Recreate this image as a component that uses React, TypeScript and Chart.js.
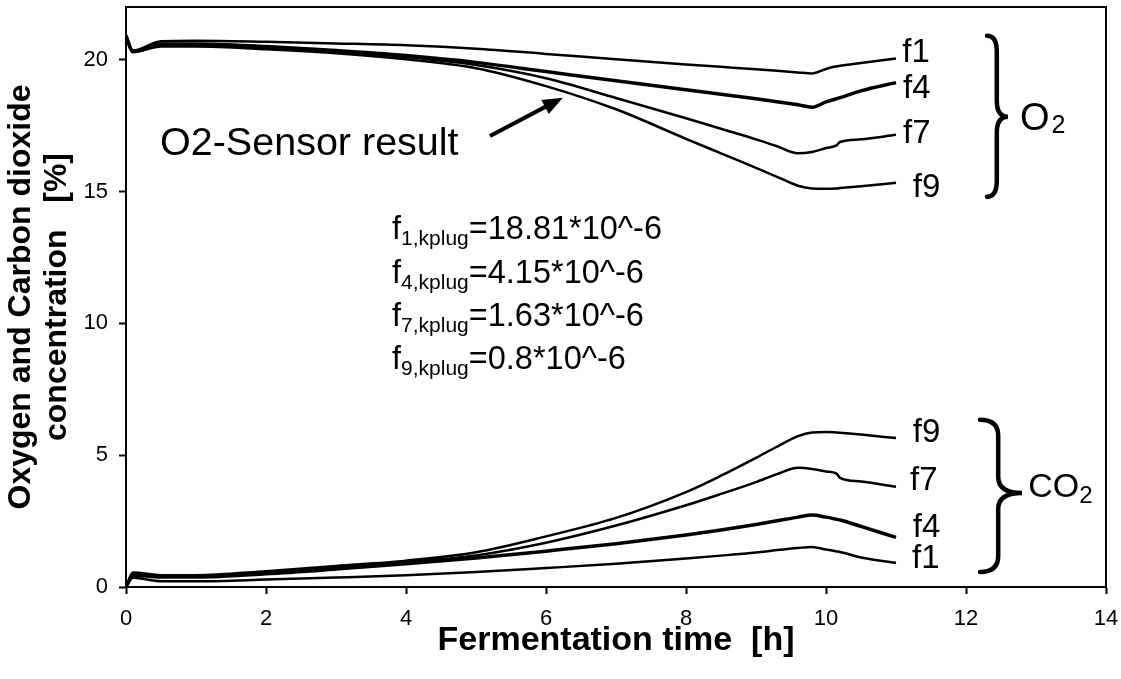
import React, { useEffect, useRef } from 'react';
import { Chart, registerables } from 'chart.js';

Chart.register(...registerables);

// ---- data ----
const time = [0, 0.1, 0.5, 1, 2, 3, 4, 5, 6, 7, 8, 8.5, 9, 9.3, 9.6, 9.8, 10.0, 10.15, 10.2, 10.5, 11];

const o2F1 = [20.95, 20.35, 20.7, 20.72, 20.68, 20.62, 20.55, 20.42, 20.22, 20.02, 19.82, 19.73, 19.64, 19.58, 19.52, 19.48, 19.65, 19.75, 19.77, 19.88, 20.05];
const o2F4 = [20.9, 20.3, 20.6, 20.6, 20.5, 20.35, 20.16, 19.9, 19.55, 19.2, 18.86, 18.69, 18.52, 18.41, 18.29, 18.2, 18.4, 18.52, 18.56, 18.82, 19.13];
const o2F7 = [20.85, 20.3, 20.55, 20.55, 20.45, 20.3, 20.1, 19.8, 19.3, 18.55, 17.78, 17.38, 16.98, 16.72, 16.45, 16.5, 16.65, 16.75, 16.88, 16.98, 17.15];
const o2F9 = [20.8, 20.3, 20.5, 20.5, 20.4, 20.25, 20.02, 19.68, 19.0, 18.12, 17.0, 16.45, 15.9, 15.56, 15.22, 15.12, 15.11, 15.12, 15.13, 15.2, 15.33];

const co2F9 = [0.0, 0.55, 0.45, 0.45, 0.6, 0.8, 1.0, 1.32, 1.92, 2.62, 3.6, 4.22, 4.9, 5.32, 5.72, 5.86, 5.88, 5.86, 5.85, 5.78, 5.65];
const co2F7 = [0.0, 0.5, 0.42, 0.42, 0.55, 0.75, 0.95, 1.2, 1.68, 2.33, 3.1, 3.53, 3.98, 4.28, 4.52, 4.48, 4.38, 4.3, 4.14, 4.0, 3.8];
const co2F4 = [0.0, 0.45, 0.38, 0.38, 0.5, 0.68, 0.88, 1.1, 1.36, 1.64, 1.97, 2.16, 2.37, 2.51, 2.65, 2.73, 2.65, 2.57, 2.54, 2.3, 1.88];
const co2F1 = [0.0, 0.35, 0.22, 0.22, 0.28, 0.36, 0.45, 0.57, 0.72, 0.88, 1.08, 1.19, 1.31, 1.4, 1.48, 1.52, 1.42, 1.35, 1.33, 1.12, 0.91];

const xTicks = [0, 2, 4, 6, 8, 10, 12, 14];
const yTicks = [0, 5, 10, 15, 20];

const seriesLabels = ['f1', 'f4', 'f7', 'f9'];
const formulaSubs = ['1,kplug', '4,kplug', '7,kplug', '9,kplug'];
const formulaVals = ['=18.81*10^-6', '=4.15*10^-6', '=1.63*10^-6', '=0.8*10^-6'];

const FONT = '"Liberation Sans", Arial, sans-serif';

function toPts(ys: number[]) {
  return time.map((t, i) => ({ x: t, y: ys[i] }));
}

function drawBrace(ctx: CanvasRenderingContext2D, xL: number, xM: number, xT: number, yTop: number, yTip: number, yBot: number, r: number) {
  ctx.beginPath();
  ctx.moveTo(xL, yTop);
  ctx.quadraticCurveTo(xM, yTop, xM, yTop + r);
  ctx.lineTo(xM, yTip - r);
  ctx.quadraticCurveTo(xM, yTip, xT, yTip);
  ctx.quadraticCurveTo(xM, yTip, xM, yTip + r);
  ctx.lineTo(xM, yBot - r);
  ctx.quadraticCurveTo(xM, yBot, xL, yBot);
  ctx.stroke();
}

const annotationPlugin = {
  id: 'annotations',
  afterDraw(chart: any) {
    const { ctx, chartArea } = chart;
    const xs = chart.scales.x;
    const ys = chart.scales.y;
    const px = (v: number) => xs.getPixelForValue(v);
    const py = (v: number) => ys.getPixelForValue(v);
    ctx.save();
    // frame
    ctx.strokeStyle = '#000';
    ctx.lineWidth = 2;
    ctx.strokeRect(chartArea.left, chartArea.top, chartArea.right - chartArea.left, chartArea.bottom - chartArea.top);

    ctx.fillStyle = '#000';
    ctx.textBaseline = 'alphabetic';
    ctx.textAlign = 'left';

    // series labels
    ctx.font = `33px ${FONT}`;
    const o2Pos = [[11.09, 19.92], [11.1, 18.56], [11.1, 16.85], [11.24, 14.8]];
    const co2Pos = [[11.23, 0.72], [11.24, 1.9], [11.2, 3.68], [11.24, 5.5]];
    seriesLabels.forEach((l, i) => {
      ctx.fillText(l, px(o2Pos[i][0]), py(o2Pos[i][1]));
      ctx.fillText(l, px(co2Pos[i][0]), py(co2Pos[i][1]));
    });

    // braces
    ctx.lineWidth = 4.5;
    ctx.lineCap = 'round';
    drawBrace(ctx, px(12.3), px(12.44), px(12.6), py(20.91), py(17.84), py(14.8), 16);
    drawBrace(ctx, px(12.2), px(12.46), px(12.8), py(6.34), py(3.57), py(0.57), 16);

    // O2 / CO2 labels
    ctx.font = `38px ${FONT}`;
    let x = px(12.77);
    let y = py(17.34);
    ctx.fillText('O', x, y);
    let w = ctx.measureText('O').width;
    ctx.font = `25px ${FONT}`;
    ctx.fillText('2', x + w + 2, y + 3);

    ctx.font = `34px ${FONT}`;
    x = px(12.89);
    y = py(3.42);
    ctx.fillText('CO', x, y);
    w = ctx.measureText('CO').width;
    ctx.font = `24px ${FONT}`;
    ctx.fillText('2', x + w, y + 6);

    // sensor text + arrow
    ctx.font = `39.5px ${FONT}`;
    ctx.fillText('O2-Sensor result', px(0.486), py(16.39));
    const ax0 = px(5.2), ay0 = py(17.11), ax1 = px(6.24), ay1 = py(18.56);
    const ang = Math.atan2(ay1 - ay0, ax1 - ax0);
    const hl = 20, hw = 8;
    ctx.lineWidth = 4;
    ctx.lineCap = 'butt';
    ctx.beginPath();
    ctx.moveTo(ax0, ay0);
    ctx.lineTo(ax1 - Math.cos(ang) * hl * 0.8, ay1 - Math.sin(ang) * hl * 0.8);
    ctx.stroke();
    ctx.beginPath();
    ctx.moveTo(ax1, ay1);
    ctx.lineTo(ax1 - Math.cos(ang) * hl + Math.sin(ang) * hw, ay1 - Math.sin(ang) * hl - Math.cos(ang) * hw);
    ctx.lineTo(ax1 - Math.cos(ang) * hl - Math.sin(ang) * hw, ay1 - Math.sin(ang) * hl + Math.cos(ang) * hw);
    ctx.closePath();
    ctx.fill();

    // formulas
    const baseVals = [13.21, 11.54, 9.91, 8.28];
    formulaSubs.forEach((s, i) => {
      let fx = px(3.8);
      const fy = py(baseVals[i]);
      ctx.font = `32.5px ${FONT}`;
      ctx.fillText('f', fx, fy);
      fx += ctx.measureText('f').width;
      ctx.font = `21px ${FONT}`;
      ctx.fillText(s, fx, fy + 6);
      fx += ctx.measureText(s).width;
      ctx.font = `32.5px ${FONT}`;
      ctx.fillText(formulaVals[i], fx, fy);
    });
    ctx.restore();
  },
};

export default function App() {
  const ref = useRef<HTMLCanvasElement | null>(null);
  useEffect(() => {
    if (!ref.current) return;
    Chart.defaults.font.family = FONT;
    const mk = (ys: number[], width: number) => ({
      data: toPts(ys),
      borderColor: '#000',
      borderWidth: width,
      pointRadius: 0,
      fill: false,
      cubicInterpolationMode: 'monotone' as const,
    });
    const chart = new Chart(ref.current, {
      type: 'line',
      data: {
        datasets: [
          mk(o2F1, 2.5), mk(o2F4, 3.5), mk(o2F7, 2.5), mk(o2F9, 2.5),
          mk(co2F1, 2.5), mk(co2F4, 3.5), mk(co2F7, 2.5), mk(co2F9, 2.5),
        ],
      },
      options: {
        animation: false,
        responsive: false,
        layout: { padding: { left: 0, top: 7, right: 15, bottom: 0 } },
        plugins: { legend: { display: false }, tooltip: { enabled: false } },
        scales: {
          x: {
            type: 'linear',
            min: 0,
            max: 14,
            afterBuildTicks: (s: any) => { s.ticks = xTicks.map((v) => ({ value: v })); },
            afterFit: (s: any) => { s.height = 92; s.paddingLeft = 0; s.paddingRight = 0; },
            grid: { drawOnChartArea: false, drawTicks: true, tickLength: 7, tickWidth: 2, tickColor: '#000', color: '#000' },
            border: { display: true, color: '#000', width: 2 },
            ticks: { color: '#000', font: { size: 22 }, padding: 12, maxRotation: 0 },
            title: { display: true, text: 'Fermentation time  [h]', color: '#000', font: { size: 34, weight: 'bold', lineHeight: 1.2 }, padding: { top: 0, bottom: 18 } },
          },
          y: {
            type: 'linear',
            min: 0,
            max: 22,
            afterBuildTicks: (s: any) => { s.ticks = yTicks.map((v) => ({ value: v })); },
            afterFit: (s: any) => { s.width = 126; s.paddingTop = 0; s.paddingBottom = 0; },
            grid: { drawOnChartArea: false, drawTicks: true, tickLength: 7, tickWidth: 2, tickColor: '#000', color: '#000' },
            border: { display: true, color: '#000', width: 2 },
            ticks: { color: '#000', font: { size: 22 }, padding: 11 },
            title: { display: true, text: ['Oxygen and Carbon dioxide', 'concentration   [%]'], color: '#000', font: { size: 32, weight: 'bold', lineHeight: 1.125 }, padding: { top: 3, bottom: 0 } },
          },
        },
      },
      plugins: [annotationPlugin],
    });
    return () => chart.destroy();
  }, []);
  return (
    <div style={{ position: 'fixed', left: 0, top: 0, width: 1121, height: 679, background: '#fff' }}>
      <canvas ref={ref} width={1121} height={679} style={{ display: 'block' }} />
    </div>
  );
}
